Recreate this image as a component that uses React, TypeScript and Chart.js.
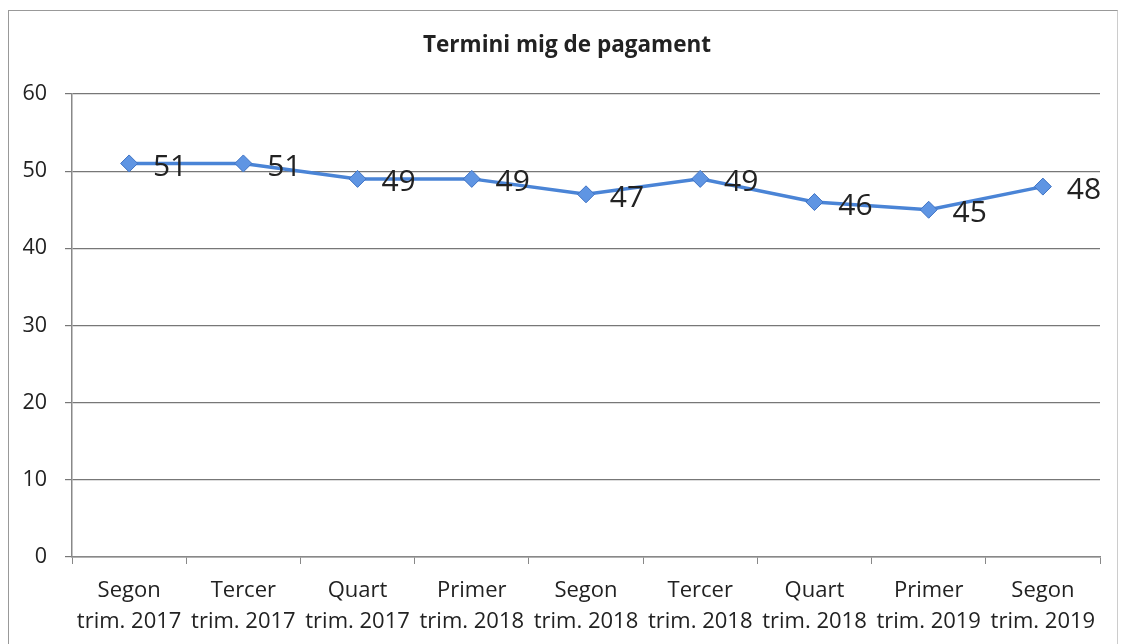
import React, { useEffect, useRef } from "react";
import { Chart, registerables } from "chart.js";

Chart.register(...registerables);

const chartTitle = "Termini mig de pagament";
const categories: string[][] = [
  ["Segon", "trim. 2017"],
  ["Tercer", "trim. 2017"],
  ["Quart", "trim. 2017"],
  ["Primer", "trim. 2018"],
  ["Segon", "trim. 2018"],
  ["Tercer", "trim. 2018"],
  ["Quart", "trim. 2018"],
  ["Primer", "trim. 2019"],
  ["Segon", "trim. 2019"],
];
const values: number[] = [51, 51, 49, 49, 47, 49, 46, 45, 48];
const yTicks = { min: 0, max: 60, step: 10 };

const FONT = "'Open Sans', 'Noto Sans', sans-serif";

const labelPlugin = {
  id: "pointLabels",
  afterDatasetsDraw(chart: any) {
    const ctx = chart.ctx;
    const meta = chart.getDatasetMeta(0);
    ctx.save();
    ctx.font = `30px ${FONT}`;
    ctx.fillStyle = "#222";
    ctx.textAlign = "center";
    ctx.textBaseline = "middle";
    meta.data.forEach((pt: any, i: number) => {
      ctx.fillText(String(values[i]), pt.x + 41, pt.y + 4);
    });
    ctx.restore();
  },
};

const titlePlugin = {
  id: "customTitle",
  afterDraw(chart: any) {
    const ctx = chart.ctx;
    ctx.save();
    ctx.font = `bold 22.5px ${FONT}`;
    ctx.fillStyle = "#222";
    ctx.textAlign = "center";
    ctx.textBaseline = "middle";
    ctx.fillText(chartTitle, 558, 35);
    ctx.restore();
  },
};

export default function App() {
  const ref = useRef<HTMLCanvasElement | null>(null);
  useEffect(() => {
    if (!ref.current) return;
    const chart = new Chart(ref.current, {
      type: "line",
      data: {
        labels: categories,
        datasets: [
          {
            data: values,
            borderColor: "#4a84d6",
            borderWidth: 3.5,
            pointStyle: "rectRot",
            pointRadius: 8.5,
            pointBackgroundColor: "#5f95e3",
            pointBorderColor: "#3f73c4",
            pointBorderWidth: 1,
            tension: 0,
          },
        ],
      },
      options: {
        animation: false,
        responsive: false,
        layout: { padding: { top: 83, right: 17, left: 0, bottom: 0 } },
        plugins: {
          legend: { display: false },
          title: { display: false },
          tooltip: { enabled: false },
        },
        scales: {
          x: {
            offset: true,
            grid: {
              offset: true,
              drawOnChartArea: false,
              drawTicks: true,
              tickLength: 7,
              color: "#888",
            },
            border: { color: "#888", width: 1.5 },
            ticks: {
              color: "#222",
              font: { family: FONT, size: 22, lineHeight: 1.38 },
              padding: 12,
              maxRotation: 0,
              autoSkip: false,
            },
            afterFit: (s: any) => {
              s.height = 94;
            },
          },
          y: {
            min: yTicks.min,
            max: yTicks.max,
            ticks: {
              stepSize: yTicks.step,
              color: "#222",
              font: { family: FONT, size: 21.5 },
              padding: 18,
            },
            grid: { color: "#777", lineWidth: 1.2, tickLength: 7 },
            border: { color: "#888", width: 1.5 },
            afterFit: (s: any) => {
              s.width = 63;
            },
          },
        },
      },
      plugins: [labelPlugin, titlePlugin],
    });
    return () => chart.destroy();
  }, []);
  return (
    <div
      style={{
        position: "absolute",
        left: 8,
        top: 10,
        width: 1108,
        height: 640,
        borderTop: "1px solid #999",
        borderLeft: "1px solid #999",
        borderRight: "1px solid #ccc",
        background: "#fff",
      }}
    >
      <canvas ref={ref} width={1108} height={640} style={{ display: "block" }} />
    </div>
  );
}
